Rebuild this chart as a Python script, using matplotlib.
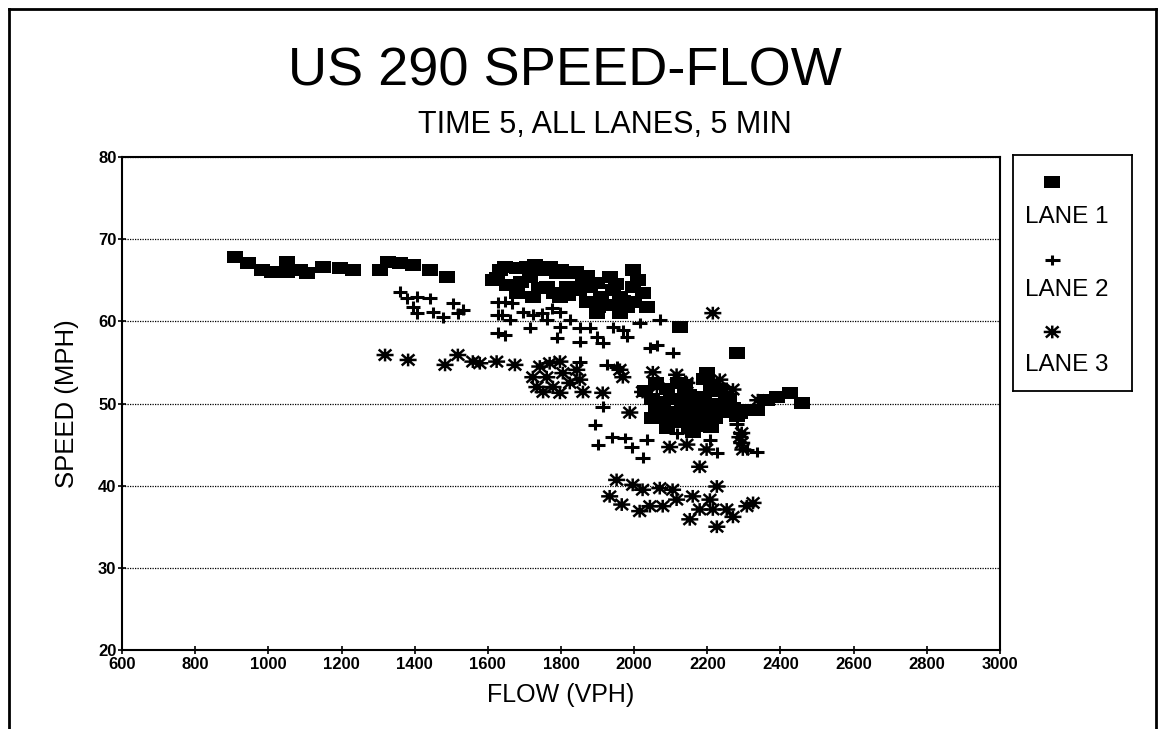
import matplotlib
matplotlib.use('Agg')
import matplotlib.pyplot as plt
from matplotlib.path import Path
from matplotlib.lines import Line2D
import numpy as np

plt.rcParams['font.family'] = ['Liberation Sans', 'DejaVu Sans']

# 数据：FLOW (VPH) 与 SPEED (MPH)
lane1_flow = [909, 944, 983, 1010, 1051, 1051, 1086, 1105, 1149, 1196, 1231,
              1305, 1327, 1360, 1395, 1441, 1488, 1624,
              1633, 1614, 1652, 1647, 1707, 1715, 1751, 1789, 1824, 1761, 1723,
              1797, 1816, 1860, 1870, 1898, 1933, 1942, 1996, 1961, 1996, 2023,
              2034, 1898, 1961, 1980, 2125, 2280,
              1680, 1730, 1770, 1800, 1840, 1870, 1690, 1740, 1780, 1820, 1850,
              1880, 1910, 1930, 1950, 1970, 2000, 2010, 1900, 1680,
              2030, 2050, 2060, 2070, 2080, 2090, 2100, 2110, 2120, 2130, 2140,
              2150, 2160, 2170, 2180, 2190, 2200, 2200, 2210, 2220, 2230, 2240,
              2250, 2270, 2290, 2310, 2335, 2362, 2390, 2425, 2460, 2090, 2150,
              2060, 2120, 2190, 2215, 2100, 2140, 2170, 2230, 2260, 2280, 2050,
              2160, 2210]
lane1_speed = [67.8, 67.1, 66.3, 66.0, 67.2, 66.0, 66.3, 65.9, 66.6, 66.5, 66.3,
               66.3, 67.2, 67.1, 66.9, 66.3, 65.4, 65.3,
               66.3, 65.0, 64.4, 66.6, 66.6, 65.4, 66.3, 65.9, 65.9, 64.2, 63.0,
               63.0, 64.2, 65.0, 62.4, 64.7, 65.4, 63.8, 66.3, 63.0, 64.2, 63.5,
               61.8, 61.0, 61.0, 61.8, 59.3, 56.2,
               66.5, 66.8, 66.6, 66.2, 66.0, 65.5, 64.8, 64.0, 63.5, 63.2, 63.8,
               64.2, 63.0, 62.0, 64.5, 62.5, 62.3, 65.0, 61.8, 63.5,
               51.5, 50.5, 49.5, 48.5, 50.2, 51.8, 49.0, 47.8, 50.5, 49.2, 48.0,
               51.0, 49.8, 48.5, 47.5, 50.2, 49.0, 53.7, 51.5, 48.2, 50.0, 49.0,
               50.8, 49.5, 48.8, 49.2, 49.2, 50.4, 50.8, 51.3, 50.1, 47.0, 47.0,
               52.5, 52.5, 53.0, 52.3, 50.5, 51.8, 50.8, 51.8, 50.5, 48.5, 48.2,
               46.5, 47.2]

lane2_flow = [1360, 1379, 1406, 1441, 1395, 1406, 1450, 1477, 1505, 1532, 1518,
              1627, 1627, 1627, 1647, 1666, 1638, 1660, 1647, 1696, 1723, 1715,
              1748, 1775, 1797, 1761, 1797, 1789, 1824, 1851, 1851, 1879, 1898,
              1914, 1942, 1969, 1980, 2015, 2070, 2043, 2062, 2105, 1851, 1925,
              1952, 1914, 1893, 1901, 1939, 1974, 1993, 2023, 2034, 2289, 2308,
              2335, 2116, 2207, 2226, 2080, 2140, 2250, 2170, 2280]
lane2_speed = [63.6, 62.8, 63.0, 62.8, 61.8, 61.0, 61.1, 60.5, 62.2, 61.4, 61.0,
               62.3, 60.8, 58.6, 62.4, 62.2, 60.8, 60.2, 58.3, 61.1, 60.8, 59.2,
               61.0, 61.6, 61.1, 60.2, 59.3, 58.0, 60.2, 59.2, 57.5, 59.2, 58.1,
               57.4, 59.3, 58.9, 58.1, 59.8, 60.2, 56.8, 57.1, 56.2, 55.1, 54.7,
               54.5, 49.6, 47.4, 45.0, 45.9, 45.8, 44.7, 43.4, 45.6, 46.4, 44.4,
               44.1, 46.4, 45.6, 44.0, 52.0, 52.8, 52.0, 46.8, 47.5]

lane3_flow = [1319, 1382, 1483, 1518, 1559, 1578, 1624, 1674, 2215,
              1742, 1769, 1797, 1723, 1761, 1805, 1843, 1734, 1778, 1824, 1851,
              1751, 1797, 1860, 1914, 1961, 1969, 2051, 2116, 2023, 2062, 2144,
              2234, 1988, 2294, 2294, 2097, 2144, 2179, 2198, 2270, 2338, 2289,
              2297, 1952, 1996, 2023, 2070, 2105, 2226, 1933, 1966, 2015, 2043,
              2078, 2116, 2160, 2207, 2179, 2152, 2226, 2215, 2270, 2308, 2325,
              2253]
lane3_speed = [55.9, 55.3, 54.7, 55.9, 55.1, 54.9, 55.1, 54.7, 61.0,
               54.5, 54.9, 55.1, 53.2, 53.2, 53.7, 54.1, 52.0, 52.0, 52.5, 52.9,
               51.4, 51.3, 51.4, 51.3, 54.1, 53.2, 53.8, 53.5, 51.4, 52.0, 52.5,
               52.9, 48.9, 46.4, 45.2, 44.7, 45.0, 42.3, 44.4, 51.7, 50.4, 45.9,
               44.4, 40.7, 40.1, 39.5, 39.7, 39.5, 39.9, 38.7, 37.7, 36.9, 37.5,
               37.5, 38.3, 38.7, 38.3, 37.1, 35.9, 35.0, 37.1, 36.2, 37.5, 37.9,
               37.1]

lanes = ['LANE 1', 'LANE 2', 'LANE 3']

# 标记形状：扁方块、加号、米字星
sq_marker = Path([(-1, -0.7), (1, -0.7), (1, 0.7), (-1, 0.7), (-1, -0.7)],
                 [Path.MOVETO, Path.LINETO, Path.LINETO, Path.LINETO, Path.CLOSEPOLY])
plus_marker = Path([(-1, 0), (1, 0), (0, -0.75), (0, 0.75)],
                   [Path.MOVETO, Path.LINETO, Path.MOVETO, Path.LINETO])
star_marker = Path([(-1, 0), (1, 0), (0, -0.75), (0, 0.75),
                    (-0.75, -0.65), (0.75, 0.65), (-0.75, 0.65), (0.75, -0.65)],
                   [Path.MOVETO, Path.LINETO] * 4)

fig = plt.figure(figsize=(11.59, 7.29), dpi=100)
ax = fig.add_axes([0.1053, 0.1084, 0.7575, 0.6762])

ax.scatter(lane1_flow, lane1_speed, marker=sq_marker, s=130, c='black',
           linewidths=0, zorder=3)
ax.scatter(lane2_flow, lane2_speed, marker=plus_marker, s=110, facecolors='none',
           edgecolors='black', linewidths=2.2, zorder=3)
ax.scatter(lane3_flow, lane3_speed, marker=star_marker, s=150, facecolors='none',
           edgecolors='black', linewidths=1.8, zorder=3)

ax.set_xlim(600, 3000)
ax.set_ylim(20, 80)
ax.set_xticks(np.arange(600, 3001, 200))
ax.set_yticks(np.arange(20, 81, 10))
ax.tick_params(axis='both', labelsize=12, direction='inout', length=6, width=1.2)
for lab in ax.get_xticklabels() + ax.get_yticklabels():
    lab.set_fontweight('bold')
ax.tick_params(axis='x', pad=2)
ax.tick_params(axis='y', pad=1)
for sp in ax.spines.values():
    sp.set_linewidth(1.5)
ax.grid(axis='y', linestyle=(0, (1, 1)), linewidth=0.9, color='black')

ax.set_xlabel('FLOW (VPH)', fontsize=18, labelpad=8)
ax.set_ylabel('SPEED (MPH)', fontsize=18.5, labelpad=14)

fig.text(0.4875, 0.883, 'US 290 SPEED-FLOW', fontsize=39, ha='center', va='baseline')
fig.text(0.522, 0.818, 'TIME 5, ALL LANES, 5 MIN', fontsize=22, ha='center', va='baseline')

# 图例：标记在上，文字在下
lax = fig.add_axes([0.874, 0.4637, 0.1027, 0.3237])
lax.set_xlim(0, 1)
lax.set_ylim(0, 1)
lax.set_xticks([])
lax.set_yticks([])
for sp in lax.spines.values():
    sp.set_linewidth(1.3)
lax.scatter([0.33], [0.886], marker=sq_marker, s=130, c='black', linewidths=0)
lax.scatter([0.33], [0.555], marker=plus_marker, s=110, facecolors='none',
            edgecolors='black', linewidths=2.2)
lax.scatter([0.33], [0.25], marker=star_marker, s=150, facecolors='none',
            edgecolors='black', linewidths=1.8)
for name, yy in zip(lanes, [0.737, 0.428, 0.11]):
    lax.text(0.10, yy, name, fontsize=17.5, ha='left', va='center')

# 外框（左、上、右）
for xs, ys in [([0.0078, 0.0078], [0.0, 0.988]),
               ([0.0078, 0.9975], [0.988, 0.988]),
               ([0.9975, 0.9975], [0.0, 0.988])]:
    fig.add_artist(Line2D(xs, ys, color='black', linewidth=2.0,
                          transform=fig.transFigure))

fig.savefig('out.png', dpi=100)
